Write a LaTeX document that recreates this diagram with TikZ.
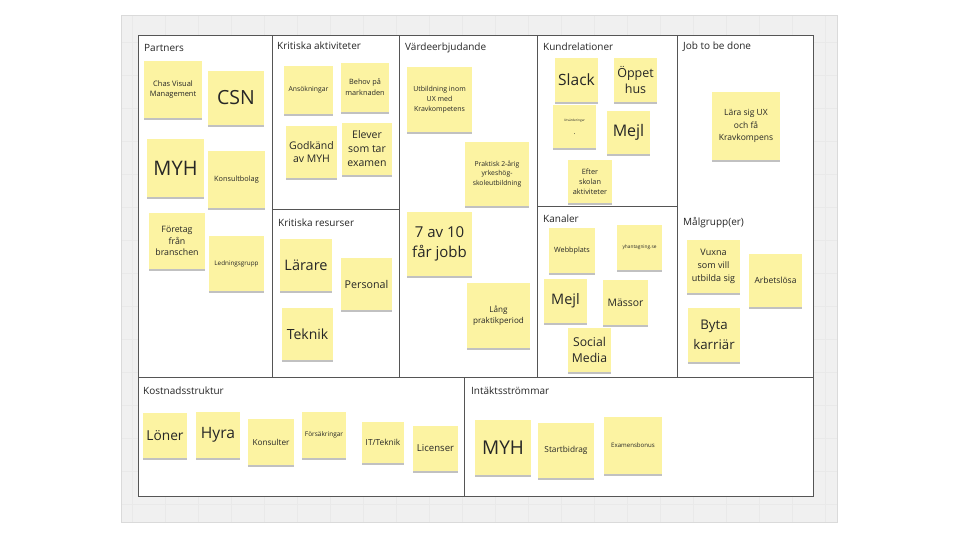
\documentclass[tikz,border=0pt]{standalone}
\usepackage{fontspec}
\setmainfont{Open Sans}
\usepackage{xcolor}
\usetikzlibrary{shadows}
\definecolor{board}{RGB}{240,240,240}
\definecolor{boardline}{RGB}{218,218,218}
\definecolor{gridline}{RGB}{233,233,233}
\definecolor{frameline}{RGB}{85,85,85}
\definecolor{sticky}{RGB}{252,243,162}
\newcommand{\fsz}[2]{\fontsize{#1}{#2}\selectfont}
\tikzstyle{note}=[fill=sticky, inner sep=0, align=center, text=black!85,
		drop shadow={shadow xshift=0pt, shadow yshift=-2pt, opacity=.3, fill=black!80}]
\tikzstyle{lbl}=[anchor=base west, inner sep=0, font=\fsz{10}{12}, text=black!85]
\tikzstyle{frame}=[draw=frameline, line width=1pt]

\begin{document}
\begin{tikzpicture}[x=1pt, y=-1pt]
        \useasboundingbox[fill=white] (0,0) rectangle (960,540);
        % board with grid
        \fill[board] (121,16) rectangle (837,522);
        \begin{scope}
            \clip (121,16) rectangle (837,522);
            \foreach \gx in {0,...,21} \draw[gridline] (825-33*\gx,16) -- (825-33*\gx,522);
            \foreach \gy in {0,...,14} \draw[gridline] (121,42+33*\gy) -- (837,42+33*\gy);
        \end{scope}
        \draw[boardline, line width=1pt] (121,16) rectangle (837,522);
        % canvas
        \fill[white] (138,36) rectangle (813,496);
        \draw[frame] (138,36) rectangle (813,496);
        \draw[frame] (272,36) -- (272,377);
        \draw[frame] (399,36) -- (399,377);
        \draw[frame] (537,36) -- (537,377);
        \draw[frame] (677,36) -- (677,377);
        \draw[frame] (138,377) -- (813,377);
        \draw[frame] (272,209) -- (399,209);
        \draw[frame] (537,206) -- (677,206);
        \draw[frame] (464,377) -- (464,496);
        % section titles
        \node[lbl] (tPartners) at (144,52) {Partners};
        \node[lbl] (tAktiv) at (277,50) {Kritiska aktiviteter};
        \node[lbl] (tResurs) at (278,226) {Kritiska resurser};
        \node[lbl] (tVarde) at (405,51) {Värdeerbjudande};
        \node[lbl] (tKund) at (543,51) {Kundrelationer};
        \node[lbl] (tKanal) at (543,222) {Kanaler};
        \node[lbl] (tJob) at (683,50) {Job to be done};
        \node[lbl] (tMal) at (683,225) {Målgrupp(er)};
        \node[lbl] (tKost) at (143,394) {Kostnadsstruktur};
        \node[lbl] (tIntakt) at (471,394) {Intäktsströmmar};
        % partners
        \node[note, minimum width=58, minimum height=57, font=\fsz{7.5}{10.7}] (chas) at (173,89.5) {Chas Visual\\Management};
        \node[note, minimum width=56, minimum height=54, font=\fsz{19.5}{24}] (csn) at (236,98) {CSN};
        \node[note, minimum width=57, minimum height=58, font=\fsz{20}{24}] (myhP) at (175.5,168) {MYH};
        \node[note, minimum width=57, minimum height=57, font=\fsz{7.3}{10}] (konsult) at (236.5,179.5) {Konsultbolag};
        \node[note, minimum width=56, minimum height=56, font=\fsz{8.8}{11.7}] (foretag) at (177,241) {Företag\\från\\branschen};
        \node[note, minimum width=55, minimum height=55, font=\fsz{6.3}{9}] (ledning) at (236.5,263.5) {Ledningsgrupp};
        % kritiska aktiviteter
        \node[note, minimum width=49, minimum height=48, font=\fsz{6.8}{9}] (ansok) at (308.5,90) {Ansökningar};
        \node[note, minimum width=48, minimum height=49, font=\fsz{7.3}{11}] (behov) at (365,87.5) {Behov på\\marknaden};
        \node[note, minimum width=51, minimum height=52, font=\fsz{10.5}{13.3}] (godkand) at (311.5,152) {Godkänd\\av MYH};
        \node[note, minimum width=50, minimum height=52, font=\fsz{10.5}{14}] (elever) at (367,149) {Elever\\som tar\\examen};
        % kritiska resurser
        \node[note, minimum width=52, minimum height=52, font=\fsz{14.5}{18}] (larare) at (306,265) {Lärare};
        \node[note, minimum width=51, minimum height=52, font=\fsz{10.7}{13}] (personal) at (366.5,284) {Personal};
        \node[note, minimum width=51, minimum height=52, font=\fsz{14}{18}] (teknik) at (307.5,334) {Teknik};
        % vardeerbjudande
        \node[note, minimum width=65, minimum height=65, font=\fsz{7}{10}] (utb) at (439.5,99.5) {Utbildning inom\\UX med\\Kravkompetens};
        \node[note, minimum width=64, minimum height=64, font=\fsz{6.8}{9.2}] (praktisk) at (497,174) {Praktisk 2-årig\\yrkeshög-\\skoleutbildning};
        \node[note, minimum width=65, minimum height=64, font=\fsz{15}{20}] (sjuav) at (439.5,244) {7 av 10\\får jobb};
        \node[note, minimum width=63, minimum height=65, font=\fsz{8.1}{11}] (lang) at (498.5,315.5) {Lång\\praktikperiod};
        % kundrelationer
        \node[note, minimum width=43, minimum height=44, font=\fsz{15.5}{19}] (slack) at (576.5,80) {Slack};
        \node[note, minimum width=43, minimum height=44, font=\fsz{12.5}{15.7}] (oppet) at (635.5,80) {Öppet\\hus};
        \node[note, minimum width=43, minimum height=43, font=\fsz{3.2}{4}] (utvard) at (574.5,127) {Utvärderingar\\[9pt]{\fsz{7}{7}.}};
        \node[note, minimum width=43, minimum height=43, font=\fsz{16}{19}] (mejlK) at (628.5,132.5) {Mejl};
        \node[note, minimum width=44, minimum height=43, font=\fsz{7.3}{10}] (efter) at (590,181.5) {Efter\\skolan\\aktiviteter};
        % kanaler
        \node[note, minimum width=46, minimum height=45, font=\fsz{7.2}{9}] (webb) at (572,250.5) {Webbplats};
        \node[note, minimum width=45, minimum height=45, font=\fsz{4.8}{6}] (yhant) at (639.5,247.5) {yhantagning.se};
        \node[note, minimum width=43, minimum height=44, font=\fsz{14.5}{18}] (mejlC) at (565.5,301) {Mejl};
        \node[note, minimum width=45, minimum height=45, font=\fsz{10.4}{13}] (massor) at (625.5,302.5) {Mässor};
        \node[note, minimum width=43, minimum height=44, font=\fsz{12.2}{15.7}] (social) at (589.5,350) {Social\\Media};
        % job to be done
        \node[note, minimum width=68, minimum height=68, font=\fsz{8.5}{12.3}] (lara) at (746,126) {Lära sig UX\\och få\\Kravkompens};
        % malgrupp
        \node[note, minimum width=53, minimum height=53, font=\fsz{9}{12.8}] (vuxna) at (713.5,266.5) {Vuxna\\som vill\\utbilda sig};
        \node[note, minimum width=53, minimum height=53, font=\fsz{8.5}{11}] (arbets) at (775.5,280.5) {Arbetslösa};
        \node[note, minimum width=52, minimum height=54, font=\fsz{13.3}{20}] (byta) at (714,335) {Byta\\karriär};
        % kostnadsstruktur
        \node[note, minimum width=44, minimum height=45, font=\fsz{13.7}{17}] (loner) at (165,435.5) {Löner};
        \node[note, minimum width=44, minimum height=46, font=\fsz{15.6}{19}] (hyra) at (218,435) {Hyra};
        \node[note, minimum width=46, minimum height=46, font=\fsz{8.2}{10}] (konsulter) at (271,442) {Konsulter};
        \node[note, minimum width=44, minimum height=46, font=\fsz{6.5}{8}] (forsak) at (324,435) {Försäkringar};
        \node[note, minimum width=42, minimum height=41, font=\fsz{8.3}{10}] (itt) at (383,442.5) {IT/Teknik};
        \node[note, minimum width=45, minimum height=45, font=\fsz{9.6}{12}] (licens) at (435.5,448.5) {Licenser};
        % intaktsstrommar
        \node[note, minimum width=56, minimum height=55, font=\fsz{19}{23}] (myhI) at (503,447.5) {MYH};
        \node[note, minimum width=56, minimum height=55, font=\fsz{8.3}{10}] (start) at (566,450.5) {Startbidrag};
        \node[note, minimum width=58, minimum height=57, font=\fsz{6.1}{8}] (exam) at (633,445.5) {Examensbonus};
    \end{tikzpicture}
\end{document}
